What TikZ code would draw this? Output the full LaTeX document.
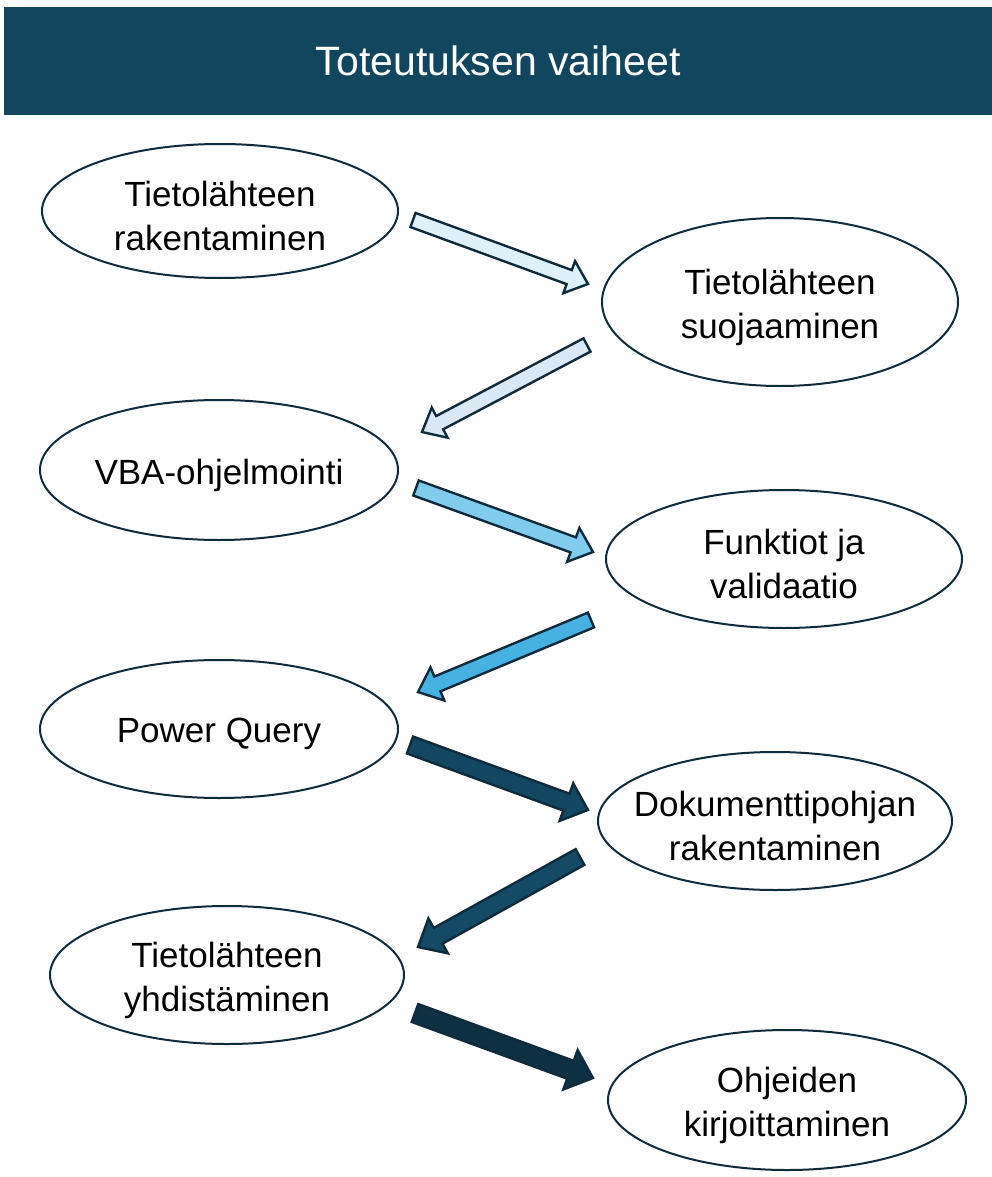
\documentclass[tikz,border=0pt]{standalone}
\usepackage{fontspec}
\setmainfont{Liberation Sans}
\usetikzlibrary{calc}
\definecolor{hdr}{HTML}{12465F}
\definecolor{edge}{HTML}{0F2B3C}
\definecolor{a1}{HTML}{DDF1FA}
\definecolor{a2}{HTML}{DAE8F5}
\definecolor{a3}{HTML}{80CCEC}
\definecolor{a4}{HTML}{47B2E2}
\definecolor{a5}{HTML}{124661}
\definecolor{a6}{HTML}{144A65}
\definecolor{a7}{HTML}{0E3043}
\tikzset{
  oval/.style={draw=edge, line width=2pt, fill=white},
  lbl/.style={align=center, font=\fontsize{35}{44}\selectfont, text=black, yshift=-5pt},
  blk/.style={draw=edge, line width=2.4pt, line join=miter},
}
\newcommand{\blockarrow}[6]{% from, to, fill, half shaft, half head, head length
  \coordinate (hb) at ($(#2)!#6!(#1)$);
  \draw[blk, fill=#3] ($(#1)!#4!90:(#2)$) -- ($(hb)!#4!90:(#2)$) -- ($(hb)!#5!90:(#2)$)
    -- (#2) -- ($(hb)!#5!-90:(#2)$) -- ($(hb)!#4!-90:(#2)$) -- ($(#1)!#4!-90:(#2)$) -- cycle;
}
\begin{document}
\begin{tikzpicture}[x=1pt,y=-1pt]
\useasboundingbox (0,0) rectangle (992,1177);
\fill[white] (0,0) rectangle (992,1177);
\node[fill=hdr, minimum width=988pt, minimum height=108pt, inner sep=0pt, anchor=north west,
  text=white, font=\fontsize{41}{44}\selectfont] (title) at (4,7) {Toteutuksen vaiheet};

\draw[oval] (220,211) ellipse [x radius=178, y radius=67];
\node[lbl] (n1) at (220,211) {Tietolähteen\\rakentaminen};
\draw[oval] (780,302) ellipse [x radius=178, y radius=84];
\node[lbl] (n2) at (780,302) {Tietolähteen\\suojaaminen};
\draw[oval] (219,470) ellipse [x radius=179, y radius=70];
\node[lbl] (n3) at (219,470) {VBA-ohjelmointi};
\draw[oval] (784,559) ellipse [x radius=178, y radius=69];
\node[lbl] (n4) at (784,559) {Funktiot ja\\validaatio};
\draw[oval] (219,729) ellipse [x radius=179, y radius=69];
\node[lbl] (n5) at (219,729) {Power Query};
\draw[oval] (775,821) ellipse [x radius=177, y radius=69];
\node[lbl] (n6) at (775,821) {Dokumenttipohjan\\rakentaminen};
\draw[oval] (227,975) ellipse [x radius=177, y radius=69];
\node[lbl] (n7) at (227,975) {Tietolähteen\\yhdistäminen};
\draw[oval] (787,1100) ellipse [x radius=179, y radius=70];
\node[lbl] (n8) at (787,1100) {Ohjeiden\\kirjoittaminen};

\coordinate (t1) at (413,220); \coordinate (h1) at (588,284);
\coordinate (t2) at (587,345); \coordinate (h2) at (422,432);
\coordinate (t3) at (416,488); \coordinate (h3) at (593,552);
\coordinate (t4) at (591,620); \coordinate (h4) at (418,692);
\coordinate (t5) at (410,745); \coordinate (h5) at (588,810);
\coordinate (t6) at (580,857); \coordinate (h6) at (418,947);
\coordinate (t7) at (415,1013); \coordinate (h7) at (593,1078);

\blockarrow{t1}{h1}{a1}{7.5pt}{17pt}{20pt}
\blockarrow{t2}{h2}{a2}{7.5pt}{17pt}{20pt}
\blockarrow{t3}{h3}{a3}{8pt}{18pt}{21pt}
\blockarrow{t4}{h4}{a4}{8pt}{18pt}{21pt}
\blockarrow{t5}{h5}{a5}{9pt}{20pt}{23pt}
\blockarrow{t6}{h6}{a6}{9pt}{20pt}{23pt}
\blockarrow{t7}{h7}{a7}{9.5pt}{21pt}{24pt}
\end{tikzpicture}
\end{document}
